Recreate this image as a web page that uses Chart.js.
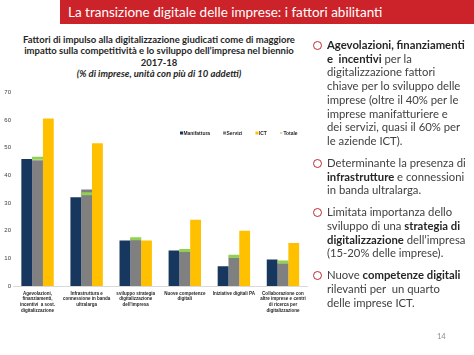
<!DOCTYPE html>
<html>
<head>
<meta charset="utf-8">
<script src="https://cdn.jsdelivr.net/npm/chart.js@4.4.1/dist/chart.umd.min.js"></script>
<style>
  html, body { margin:0; padding:0; background:#fff; width:474px; height:355px; overflow:hidden; position:relative; font-family: Lato, "Liberation Sans", sans-serif; }
  #bar { position:absolute; left:60px; top:0; width:414px; height:24px; background:#CC2229; }
  #bar span { position:absolute; left:8px; top:4px; color:#fff; font-size:13.5px; white-space:nowrap; }
  #ctitle { position:absolute; left:0; top:34px; width:318px; text-align:center; font-size:9.5px; line-height:11.3px; color:#262626; font-weight:bold; }
  #wrap { position:absolute; left:0; top:84px; width:316px; height:246px; }
  #side { position:absolute; left:311px; top:38px; width:165px; font-size:11.3px; line-height:13.7px; color:#404040; white-space:nowrap; }
  #side .it { position:relative; padding-left:16px; margin-bottom:8.3px; }
  #side .it::before { content:""; position:absolute; left:2px; top:3px; width:7px; height:7px; border:1.4px solid #C0282E; border-radius:50%; }
  #side b { color:#262626; }
  #pg { position:absolute; left:437px; top:332px; font-size:7.5px; color:#8c8c8c; }
</style>
</head>
<body>
<div id="bar"><span>La transizione digitale delle imprese: i fattori abilitanti</span></div>
<div id="ctitle">Fattori di impulso alla digitalizzazione giudicati come di maggiore<br>impatto sulla competitività e lo sviluppo dell’impresa nel biennio<br>2017-18<br><i>(% di imprese, unità con più di 10 addetti)</i></div>
<div id="wrap"><canvas id="c" width="316" height="246"></canvas></div>
<div id="side">
  <div class="it"><b>Agevolazioni, finanziamenti</b><br><b>e&nbsp; incentivi</b> per la<br>digitalizzazione fattori<br>chiave per lo sviluppo delle<br>imprese (oltre il 40% per le<br>imprese manifatturiere e<br>dei servizi, quasi il 60% per<br>le aziende ICT).</div>
  <div class="it">Determinante la presenza di<br><b>infrastrutture</b> e connessioni<br>in banda ultralarga.</div>
  <div class="it">Limitata importanza dello<br>sviluppo di una <b>strategia di</b><br><b>digitalizzazione</b> dell’impresa<br>(15-20% delle imprese).</div>
  <div class="it">Nuove <b>competenze digitali</b><br>rilevanti per&nbsp; un quarto<br>delle imprese ICT.</div>
</div>
<div id="pg">14</div>
<script>
const categories = [
  ["Agevolazioni,", "finanziamenti,", "incentivi  a sost.", "digitalizzazione"],
  ["Infrastruttura e", "connessione in banda", "ultralarga"],
  ["sviluppo strategia", "digitalizzazione", "dell'impresa"],
  ["Nuove competenze", "digitali"],
  ["Iniziative digitali PA"],
  ["Collaborazione con", "altre imprese e centri", "di ricerca per", "digitalizzazione"]
];
const manifattura = [45.9, 32.1, 16.5, 12.8, 7.1, 9.6];
const servizi     = [45.5, 34.9, 16.9, 12.3, 10.3, 8.2];
const ict         = [60.6, 51.6, 16.5, 24.0, 20.0, 15.6];
const totale      = [46.2, 33.4, 17.1, 12.8, 10.8, 8.7];
const yMin = 0, yMax = 70, yStep = 10;

const FONT_SMALL = 'bold 5.8px "Liberation Sans", Arial, sans-serif';

// Condensed category labels (narrow font look of the original)
const xLabelPlugin = {
  id: 'xLabels',
  afterDraw(chart) {
    const ctx = chart.ctx;
    const xs = chart.scales.x;
    const top = chart.chartArea.bottom + 7;
    ctx.save();
    ctx.font = FONT_SMALL;
    ctx.fillStyle = '#262626';
    ctx.textAlign = 'center';
    ctx.textBaseline = 'middle';
    chart.data.labels.forEach((lines, i) => {
      const cx = xs.getPixelForValue(i);
      lines.forEach((ln, k) => {
        ctx.save();
        ctx.translate(cx, top + k * 5.7);
        ctx.scale(0.78, 1);
        ctx.fillText(ln, 0, 0);
        ctx.restore();
      });
    });
    ctx.restore();
  }
};

const legendPlugin = {
  id: 'customLegend',
  afterDraw(chart) {
    const ctx = chart.ctx;
    ctx.save();
    ctx.font = FONT_SMALL;
    ctx.textBaseline = 'middle';
    let x = 180;
    const y = 49;
    chart.data.datasets.forEach(ds => {
      ctx.fillStyle = ds.legendColor;
      if (ds.type === 'line') {
        ctx.fillRect(x, y - 0.5, 2.5, 1);
      } else {
        ctx.fillRect(x, y - 1.5, 3, 3);
      }
      x += 3.5;
      ctx.fillStyle = '#262626';
      ctx.save();
      ctx.translate(x, y);
      ctx.scale(0.85, 1);
      ctx.fillText(ds.label, 0, 0);
      ctx.restore();
      x += ctx.measureText(ds.label).width * 0.85 + 13;
    });
    ctx.restore();
  }
};

new Chart(document.getElementById('c'), {
  data: {
    labels: categories,
    datasets: [
      { type: 'bar', label: 'Manifattura', data: manifattura, backgroundColor: '#17375E', legendColor: '#17375E', order: 2 },
      { type: 'bar', label: 'Servizi', data: servizi, backgroundColor: '#808080', legendColor: '#808080', order: 2 },
      { type: 'bar', label: 'ICT', data: ict, backgroundColor: '#FFC000', legendColor: '#FFC000', order: 2 },
      { type: 'line', label: 'Totale', data: totale, showLine: false, pointStyle: 'line', pointRadius: 5.5, pointBorderWidth: 3, borderColor: '#92D050', backgroundColor: '#92D050', legendColor: '#92D050', order: 1 }
    ]
  },
  options: {
    responsive: false,
    animation: false,
    events: [],
    layout: { padding: { top: 2, right: 3, left: 2, bottom: 0 } },
    plugins: { legend: { display: false }, tooltip: { enabled: false } },
    datasets: { bar: { categoryPercentage: 0.66, barPercentage: 1.0 } },
    scales: {
      x: {
        grid: { display: false, drawTicks: false },
        border: { display: true, color: '#D9D9D9' },
        ticks: { display: false },
        afterFit(s) { s.height = 44; }
      },
      y: {
        min: yMin, max: yMax,
        grid: { display: false, drawTicks: false },
        border: { display: false },
        ticks: { stepSize: yStep, font: { family: '"Liberation Sans", Arial, sans-serif', size: 6 }, color: '#404040', padding: 2 },
        afterFit(s) { s.width = 11; }
      }
    }
  },
  plugins: [xLabelPlugin, legendPlugin]
});
</script>
</body>
</html>
